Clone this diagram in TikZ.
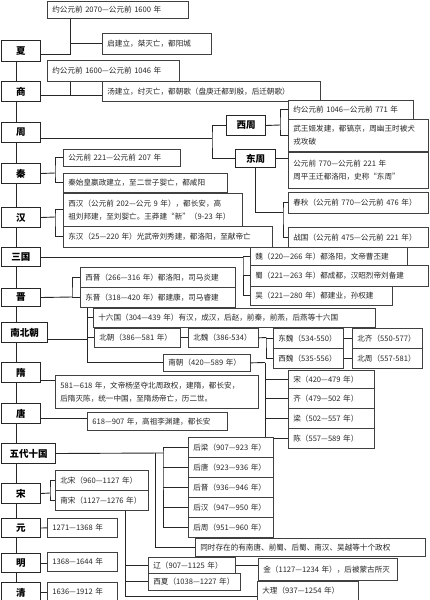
\documentclass[tikz,border=0pt]{standalone}
\usepackage{fontspec}
\newfontfamily\cjk{Noto Sans CJK SC}
\tikzset{
era/.style={draw=black!85, line width=1pt, fill=white, anchor=north west, inner sep=0pt, minimum width=39pt, minimum height=20pt, font=\cjk\bfseries\fontsize{9.5}{9.5}\selectfont},
info/.style={draw=black!75, line width=0.7pt, fill=white, anchor=north west, inner xsep=5pt, inner ysep=0pt, align=left, text=black!85, font=\cjk\fontsize{7.6}{13}\selectfont},
link/.style={draw=black!85, line width=0.9pt}
}
\begin{document}
\begin{tikzpicture}[x=1pt,y=-1pt]
\useasboundingbox (0,0) rectangle (430,600);
\coordinate (spine) at (16,0);
%
\node[era, minimum height=21pt] (xia) at (1,40) {夏};
\node[info, text width=131pt, minimum height=17pt] (xia1) at (47,1) {约公元前 2070—公元前 1600 年};
\node[info, text width=99pt, minimum height=21pt] (xia2) at (102,33) {启建立，桀灭亡，都阳城};
\coordinate (xiaJ) at (70,54);
\draw[link] (xia.east |- xiaJ) -- (xiaJ) -- (xiaJ |- xia1.south);
\draw[link] (xiaJ |- xia2.west) -- (xia2.west);
%
\node[era] (shang) at (1,81) {商};
\node[info, text width=122pt, minimum height=21pt] (shang1) at (47,60) {约公元前 1600—公元前 1046 年};
\node[info, text width=208pt, minimum height=20pt] (shang2) at (102,81) {汤建立，纣灭亡，都朝歌（盘庚迁都到殷，后迁朝歌）};
\coordinate (shangJ) at (70,95);
\draw[link] (shang.east |- shangJ) -- (shang2.west |- shangJ);
\draw[link] (shangJ) -- (shangJ |- shang1.south);
%
\node[era] (zhou) at (1,122) {周};
\node[era] (xizhou) at (226,115) {西周};
\node[era, minimum width=40pt, minimum height=18pt] (dongzhou) at (235,149) {东周};
\node[info, text width=115pt, minimum height=19pt] (xizhou1) at (288,100) {约公元前 1046—公元前 771 年};
\node[info, text width=130pt, minimum height=32pt] (xizhou2) at (288,119) {武王姬发建，都镐京，周幽王时被犬\\戎攻破};
\node[info, text width=130pt, minimum height=36pt] (dongzhou1) at (288,152) {公元前 770—公元前 221 年\\周平王迁都洛阳，史称“东周”};
\node[info, text width=130pt, minimum height=21pt] (chunqiu) at (288,192) {春秋（公元前 770—公元前 476 年）};
\node[info, text width=130pt, minimum height=20pt] (zhanguo) at (288,227) {战国（公元前 475—公元前 221 年）};
\coordinate (zhouJ) at (212,138);
\coordinate (xzJ) at (280,125);
\coordinate (dzJ) at (283,212);
\draw[link] (zhou.east |- zhouJ) -- (zhouJ);
\draw[link] (xizhou.west) -| (zhouJ) |- (dongzhou.west);
\draw[link] (xizhou.east) -- (xzJ);
\draw[link] (xizhou1.west) -| (xzJ) |- (xizhou2.west);
\draw[link] (dongzhou.east) -- (dongzhou1.west |- dongzhou.east);
\draw[link] (dongzhou.south) |- (dzJ);
\draw[link] (chunqiu.west) -| (dzJ) |- (zhanguo.west);
%
\node[era] (qin) at (1,163) {秦};
\node[info, text width=107pt, minimum height=17pt] (qin1) at (63,149) {公元前 221—公元前 207 年};
\node[info, text width=154pt, minimum height=19pt] (qin2) at (63,173) {秦始皇嬴政建立，至二世子婴亡，都咸阳};
\coordinate (qinJ) at (55,173);
\draw[link] (qin.east) -- (qinJ);
\draw[link] (qin1.west) -| (qinJ) |- (qin2.west);
%
\node[era] (han) at (1,207) {汉};
\node[info, text width=169pt, minimum height=33pt] (xihan) at (63,193) {西汉（公元前 202—公元 9 年），都长安，高\\祖刘邦建，至刘婴亡。王莽建“新”（9-23 年）};
\node[info, text width=199pt, minimum height=21pt] (donghan) at (63,226) {东汉（25—220 年）光武帝刘秀建，都洛阳，至献帝亡};
\coordinate (hanJ) at (55,217);
\draw[link] (han.east) -- (hanJ);
\draw[link] (xihan.west) -| (hanJ) |- (donghan.west);
%
\node[era, minimum height=19pt] (sanguo) at (1,247) {三国};
\node[info, text width=147pt, minimum height=18pt] (wei) at (250,247) {魏（220—266 年）都洛阳，文帝曹丕建};
\node[info, text width=168pt, minimum height=21pt] (shu) at (250,265) {蜀（221—263 年）都成都，汉昭烈帝刘备建};
\node[info, text width=132pt, minimum height=19pt] (wu) at (250,286) {吴（221—280 年）都建业，孙权建};
\coordinate (sgJ) at (243,257);
\draw[link] (sanguo.east) -- (sgJ);
\draw[link] (wei.west) -| (sgJ) |- (wu.west);
\draw[link] (sgJ |- shu.west) -- (shu.west);
%
\node[era, minimum height=18pt] (jin) at (1,288) {晋};
\node[info, text width=145pt, minimum height=20pt] (xijin) at (80,267) {西晋（266—316 年）都洛阳，司马炎建};
\node[info, text width=145pt, minimum height=20pt] (dongjin) at (80,287) {东晋（318—420 年）都建康，司马睿建};
\coordinate (jinJ) at (72,297);
\draw[link] (jin.east) -- (jinJ);
\draw[link] (xijin.west) -| (jinJ) |- (dongjin.west);
%
\node[era, minimum width=46pt] (nbc) at (1,322) {南北朝};
\node[info, text width=272pt, minimum height=19pt] (sixteen) at (93,308) {十六国（304—439 年）有汉，成汉，后赵，前秦，前燕，后燕等十六国};
\node[info, text width=76pt, minimum height=19pt] (beichao) at (94,328) {北朝（386—581 年）};
\node[info, text width=60pt, minimum height=19pt] (beiwei) at (188,328) {北魏（386-534）};
\node[info, text width=60pt, minimum height=20pt] (dongwei) at (273,328) {东魏（534-550）};
\node[info, text width=60pt, minimum height=20pt] (xiwei) at (273,348) {西魏（535-556）};
\node[info, text width=60pt, minimum height=20pt] (beiqi) at (352,328) {北齐（550-577）};
\node[info, text width=60pt, minimum height=20pt] (beizhou) at (352,348) {北周（557-581）};
\node[info, text width=77pt, minimum height=17pt] (nanchao) at (163,354) {南朝（420—589 年）};
\coordinate (nbcJ) at (87,339);
\coordinate (bwJ) at (266,337.5);
\coordinate (ncJ) at (265,362.5);
\draw[link] (nbc.east |- nbcJ) -- (nbcJ);
\draw[link] (nbcJ |- dongjin.south) |- (nanchao.west);
\draw[link] (nbcJ |- sixteen.west) -- (sixteen.west);
\draw[link] (nbcJ |- beichao.west) -- (beichao.west);
\draw[link] (beichao.east) -- (beiwei.west);
\draw[link] (beiwei.east) -- (bwJ);
\draw[link] (dongwei.west) -| (bwJ) |- (xiwei.west);
\draw[link] (dongwei.east) -- (beiqi.west);
\draw[link] (xiwei.east) -- (beizhou.west);
\draw[link] (nanchao.east) -- (ncJ);
%
\node[info, text width=76pt, minimum height=18pt] (nsong) at (288,370) {宋（420—479 年）};
\node[info, text width=76pt, minimum height=20pt] (nqi) at (288,388) {齐（479—502 年）};
\node[info, text width=76pt, minimum height=20pt] (liang) at (288,408) {梁（502—557 年）};
\node[info, text width=76pt, minimum height=20pt] (chen) at (288,428) {陈（557—589 年）};
\draw[link] (ncJ) |- (chen.west);
\foreach \n in {nsong,nqi,liang} \draw[link] (ncJ |- \n.west) -- (\n.west);
%
\node[era] (sui) at (1,362) {隋};
\node[info, text width=193pt, minimum height=33pt] (suibox) at (55,375) {581—618 年，文帝杨坚夺北周政权，建隋，都长安，\\后隋灭陈，统一中国，至隋炀帝亡，历二世。};
\draw[link] ([yshift=-8pt]sui.east) -- ([yshift=-8pt]sui.east -| suibox.west);
%
\node[era] (tang) at (1,403) {唐};
\node[info, text width=130pt, minimum height=18pt] (tangbox) at (87,412) {618—907 年，高祖李渊建，都长安};
\draw[link] ([yshift=-5pt]tang.east) -- ([yshift=-5pt]tang.east -| tangbox.west);
%
\node[era, minimum width=54pt] (wudai) at (1,443) {五代十国};
\node[info, text width=75pt, minimum height=20pt] (hliang) at (188,437) {后梁（907—923 年）};
\node[info, text width=75pt, minimum height=20pt] (htang) at (188,457) {后唐（923—936 年）};
\node[info, text width=75pt, minimum height=20pt] (hjin) at (188,477) {后晋（936—946 年）};
\node[info, text width=75pt, minimum height=20pt] (hhan) at (188,497) {后汉（947—950 年）};
\node[info, text width=75pt, minimum height=20pt] (hzhou) at (188,517) {后周（951—960 年）};
\node[info, text width=220pt, minimum height=18pt] (tongshi) at (195,538) {同时存在的有南唐、前蜀、后蜀、南汉、吴越等十个政权};
\coordinate (wdJ) at (163,453);
\coordinate (tsJ) at (155,453);
\draw[link] (wudai.east) -- (wdJ);
\draw[link] (hliang.west) -| (wdJ) |- (hzhou.west);
\foreach \n in {htang,hjin,hhan} \draw[link] (wdJ |- \n.west) -- (\n.west);
\draw[link] (tsJ) |- (tongshi.west);
%
\node[era] (song) at (1,483) {宋};
\node[info, text width=83pt, minimum height=20pt] (beisong) at (55,470) {北宋（960—1127 年）};
\node[info, text width=83pt, minimum height=20pt] (nansong) at (55,490) {南宋（1127—1276 年）};
\coordinate (songJ) at (50,493);
\draw[link] (song.east) -- (songJ);
\draw[link] (beisong.west) -| (songJ) |- (nansong.west);
%
\node[era, minimum height=19pt] (yuan) at (1,518) {元};
\node[info, text width=60pt, minimum height=19pt] (yuan1) at (47,518) {1271—1368 年};
\node[era, minimum height=19pt] (ming) at (1,553) {明};
\node[info, text width=60pt, minimum height=19pt] (ming1) at (47,552) {1368—1644 年};
\node[era] (qing) at (1,582) {清};
\node[info, text width=60pt, minimum height=19pt] (qing1) at (47,582) {1636—1912 年};
\draw[link] (yuan.east) -- (yuan1.west);
\draw[link] (ming.east) -- (ming1.west |- ming.east);
\draw[link] (qing.east) -- (qing1.west |- qing.east);
%
\node[info, text width=77pt, minimum height=16pt] (liao) at (148,557) {辽（907—1125 年）};
\node[info, text width=82pt, minimum height=17pt] (xixia) at (148,573) {西夏（1038—1227 年）};
\node[info, text width=129pt, minimum height=22pt] (jinc) at (258,558) {金（1127—1234 年），后被蒙古所灭};
\node[info, text width=91pt, minimum height=19pt] (dali) at (257,581) {大理（937—1254 年）};
\coordinate (nsJ) at (125,596);
\draw[link] (nansong.south -| nsJ) -- (nsJ) -- (dali.west |- nsJ);
\draw[link] (nsJ |- liao.west) -- (liao.west);
\draw[link] (nsJ |- xixia.west) -- (xixia.west);
\draw[link] (liao.east) -- (jinc.west |- liao.east);
%
\foreach \a/\b in {xia/shang,shang/zhou,zhou/qin,qin/han,han/sanguo,sanguo/jin,jin/nbc,nbc/sui,sui/tang,tang/wudai,wudai/song,song/yuan,yuan/ming,ming/qing}
  \draw[link] (spine |- \a.south) -- (spine |- \b.north);
\end{tikzpicture}
\end{document}
